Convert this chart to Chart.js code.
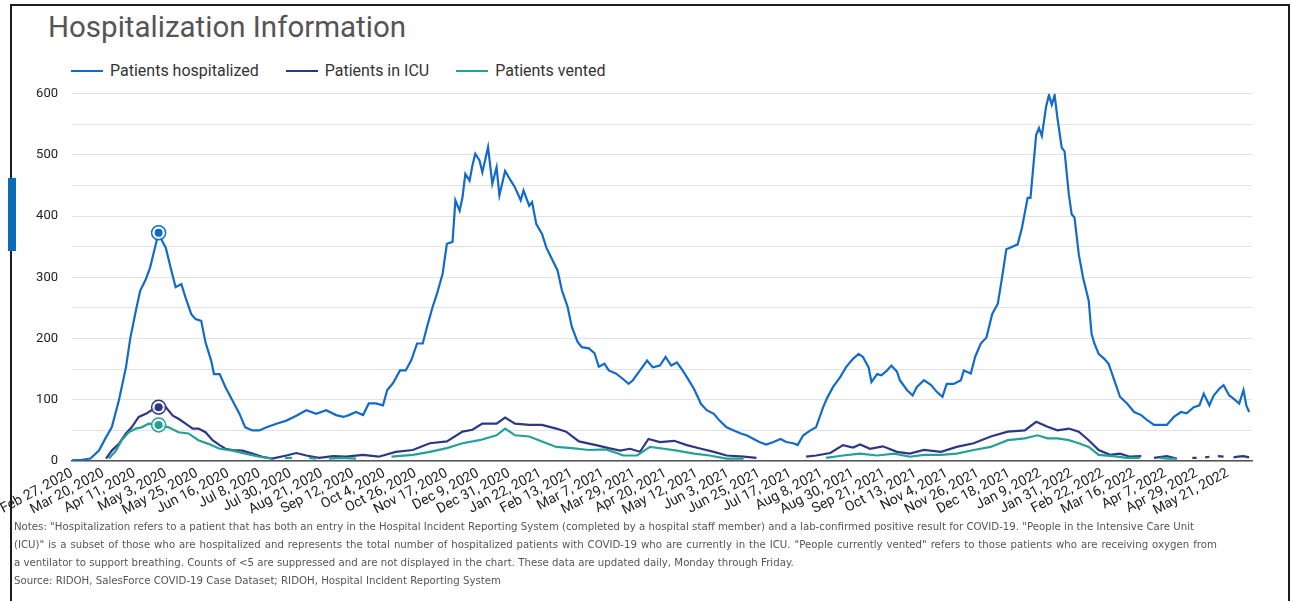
<!DOCTYPE html>
<html lang="en">
<head>
<meta charset="UTF-8">
<title>Hospitalization Information</title>
<script src="https://cdn.jsdelivr.net/npm/chart.js"></script>
<style>
    body {
        margin: 0;
        width: 1291px;
        height: 601px;
        overflow: hidden;
        position: relative;
        background: #fff;
        font-family: Roboto, 'Noto Sans', sans-serif;
    }
    .frame {
        position: absolute;
        left: 10px;
        top: 4px;
        width: 1276px;
        height: 640px;
        border: 2px solid #1c1c1c;
    }
    .tab {
        position: absolute;
        left: 8px;
        top: 178px;
        width: 8px;
        height: 73px;
        background: #0b6cba;
    }
    h1 {
        position: absolute;
        left: 48px;
        top: 10px;
        margin: 0;
        font-size: 29.5px;
        font-weight: 400;
        color: #555;
    }
    #legend {
        position: absolute;
        left: 71px;
        top: 61px;
        display: flex;
        font-size: 16px;
        color: #333;
    }
    .item {
        display: flex;
        align-items: center;
        margin-right: 27px;
    }
    .swatch {
        width: 32px;
        height: 2px;
        margin-right: 7px;
    }
    #chartBox {
        position: absolute;
        left: 0;
        top: 72px;
        width: 1291px;
        height: 448px;
    }
    .notes {
        position: absolute;
        left: 14px;
        top: 518px;
        font-family: 'DejaVu Sans', sans-serif;
        font-size: 10.2px;
        line-height: 18px;
        color: #555;
        white-space: nowrap;
    }
</style>
</head>
<body>
    <div class="frame"></div>
    <div class="tab"></div>
    <h1>Hospitalization Information</h1>
    <div id="legend"></div>
    <div id="chartBox"><canvas id="hospChart"></canvas></div>
    <div class="notes">
        Notes: "Hospitalization refers to a patient that has both an entry in the Hospital Incident Reporting System (completed by a hospital staff member) and a lab-confirmed positive result for COVID-19. "People in the Intensive Care Unit<br>
        <span style="word-spacing:0.7px">(ICU)" is a subset of those who are hospitalized and represents the total number of hospitalized patients with COVID-19 who are currently in the ICU. "People currently vented" refers to those patients who are receiving oxygen from</span><br>
        a ventilator to support breathing. Counts of &lt;5 are suppressed and are not displayed in the chart. These data are updated daily, Monday through Friday.<br>
        Source: RIDOH, SalesForce COVID-19 Case Dataset; RIDOH, Hospital Incident Reporting System
    </div>

<script>
// x axis: days since Feb 27, 2020, one label every 22 days
const tickLabels = ['Feb 27, 2020', 'Mar 20, 2020', 'Apr 11, 2020', 'May 3, 2020', 'May 25, 2020', 'Jun 16, 2020',
    'Jul 8, 2020', 'Jul 30, 2020', 'Aug 21, 2020', 'Sep 12, 2020', 'Oct 4, 2020', 'Oct 26, 2020', 'Nov 17, 2020',
    'Dec 9, 2020', 'Dec 31, 2020', 'Jan 22, 2021', 'Feb 13, 2021', 'Mar 7, 2021', 'Mar 29, 2021', 'Apr 20, 2021',
    'May 12, 2021', 'Jun 3, 2021', 'Jun 25, 2021', 'Jul 17, 2021', 'Aug 8, 2021', 'Aug 30, 2021', 'Sep 21, 2021',
    'Oct 13, 2021', 'Nov 4, 2021', 'Nov 26, 2021', 'Dec 18, 2021', 'Jan 9, 2022', 'Jan 31, 2022', 'Feb 22, 2022',
    'Mar 16, 2022', 'Apr 7, 2022', 'Apr 29, 2022', 'May 21, 2022'];
const tickStep = 22;
const lastDay = 831;
const peakDay = 61; // highlighted point

const hospDays = [
    0, 7, 13, 19, 24, 28, 33, 38, 41, 45,
    48, 52, 55, 59, 61, 64, 66, 70, 73, 77,
    80, 84, 87, 91, 94, 98, 100, 104, 108, 113,
    118, 122, 127, 132, 137, 144, 151, 158, 165, 172,
    179, 186, 191, 195, 200, 205, 209, 214, 219, 222,
    226, 231, 235, 239, 243, 247, 250, 254, 257, 261,
    264, 268, 270, 273, 275, 277, 280, 282, 284, 287,
    289, 293, 296, 299, 301, 305, 309, 312, 316, 318,
    322, 324, 327, 331, 334, 338, 342, 345, 349, 352,
    356, 359, 364, 368, 371, 375, 378, 383, 388, 392,
    395, 400, 405, 409, 414, 418, 422, 426, 430, 433,
    438, 443, 447, 452, 456, 461, 466, 471, 475, 480,
    484, 489, 494, 499, 503, 508, 511, 515, 520, 524,
    529, 532, 536, 541, 545, 550, 554, 557, 561, 563,
    567, 570, 574, 577, 581, 583, 588, 592, 595, 600,
    605, 609, 613, 616, 621, 626, 628, 633, 636, 640,
    644, 648, 652, 655, 658, 661, 666, 669, 673, 675,
    679, 681, 683, 686, 688, 690, 692, 694, 697, 699,
    702, 704, 706, 709, 712, 716, 718, 720, 723, 727,
    730, 734, 738, 743, 748, 753, 757, 762, 766, 771,
    776, 781, 785, 790, 794, 797, 801, 804, 808, 811,
    815, 818, 822, 825, 827, 829];
const hospValues = [
    1, 2, 4, 17, 39, 55, 99, 153, 200, 246,
    278, 297, 316, 354, 373, 357, 349, 311, 284, 289,
    267, 240, 232, 229, 194, 164, 142, 142, 121, 99,
    77, 55, 50, 50, 55, 61, 66, 74, 83, 77,
    83, 75, 72, 75, 80, 75, 94, 94, 91, 116,
    127, 148, 148, 165, 192, 192, 219, 252, 273, 306,
    355, 358, 426, 409, 431, 469, 458, 483, 502, 491,
    472, 513, 453, 480, 434, 474, 458, 447, 426, 442,
    417, 423, 387, 371, 349, 330, 311, 279, 252, 219,
    195, 186, 184, 176, 154, 159, 148, 143, 134, 126,
    132, 148, 164, 153, 156, 170, 156, 161, 148, 137,
    118, 93, 83, 77, 66, 55, 50, 45, 42, 36,
    31, 27, 31, 36, 31, 29, 26, 42, 50, 55,
    88, 104, 121, 137, 153, 167, 175, 170, 153, 129,
    142, 140, 148, 156, 146, 132, 116, 107, 121, 132,
    124, 113, 105, 126, 126, 132, 148, 143, 170, 192,
    202, 240, 257, 300, 346, 349, 354, 381, 430, 430,
    533, 544, 531, 579, 598, 582, 598, 560, 512, 506,
    436, 403, 398, 338, 300, 262, 208, 192, 175, 167,
    159, 132, 105, 94, 80, 75, 67, 59, 59, 59,
    72, 80, 78, 88, 91, 110, 91, 107, 118, 124,
    107, 102, 94, 116, 91, 80];

// null = suppressed (<5), left as a gap
const icuDays = [
    24, 28, 33, 38, 42, 47, 52, 56, 61, 66,
    71, 75, 80, 85, 89, 94, 99, 104, 108, 113,
    120, 127, 134, 141, 151, 158, 165, 174, 184, 193,
    205, 216, 228, 240, 252, 264, 275, 282, 289, 299,
    305, 312, 322, 331, 341, 348, 357, 369, 378, 386,
    393, 400, 406, 414, 424, 433, 443, 452, 461, 473,
    482, 486, 517, 524, 534, 543, 550, 555, 562, 571,
    581, 590, 600, 612, 623, 635, 647, 659, 671, 679,
    687, 694, 702, 709, 716, 723, 731, 738, 745, 753,
    757, 762, 771, 778, 782, 789, 792, 795, 798, 801,
    804, 807, 811, 814, 818, 821, 825, 829];
const icuValues = [
    4, 17, 28, 45, 55, 72, 77, 83, 88, 88,
    74, 69, 61, 53, 53, 47, 34, 26, 20, 18,
    17, 12, 7, 4, 9, 13, 9, 5, 8, 7,
    10, 7, 15, 18, 29, 32, 48, 51, 61, 61,
    71, 61, 59, 59, 53, 48, 32, 26, 21, 17,
    20, 15, 36, 31, 33, 26, 20, 15, 9, 7,
    5, null, 7, 9, 13, 26, 22, 27, 20, 24,
    15, 12, 18, 15, 23, 29, 40, 48, 50, 64,
    56, 50, 53, 48, 34, 18, 10, 12, 7, 8,
    null, 5, 8, 4, null, 5, 5, null, 6, 7,
    null, 8, 7, null, 6, 7, 8, 6];

const ventDays = [
    26, 31, 35, 40, 45, 49, 54, 61, 68, 75,
    82, 89, 96, 104, 113, 122, 132, 141, 146, 150,
    155, 160, 167, 172, 176, 181, 190, 200, 210, 225,
    240, 252, 264, 275, 287, 299, 305, 312, 322, 331,
    341, 352, 364, 376, 385, 388, 398, 407, 417, 426,
    438, 449, 461, 473, 478, 531, 543, 555, 567, 579,
    590, 600, 612, 623, 635, 647, 659, 671, 680, 687,
    694, 702, 709, 716, 723, 733, 743, 752, 758, 766,
    772, 778];
const ventValues = [
    4, 17, 34, 47, 53, 55, 61, 59, 55, 47,
    45, 34, 28, 20, 17, 12, 7, 4, null, 5,
    5, null, 5, 4, null, 4, 5, 4, null, 7,
    10, 15, 21, 29, 34, 42, 53, 42, 40, 32,
    23, 21, 18, 19, 12, 9, 9, 23, 20, 17,
    12, 9, 4, 4, null, 5, 9, 12, 9, 12,
    7, 10, 10, 12, 18, 23, 34, 37, 42, 37,
    37, 34, 29, 23, 10, 8, 5, 5, null, 5,
    4, 4];

const seriesNames = ['Patients hospitalized', 'Patients in ICU', 'Patients vented'];
const seriesColors = ['#126bc9', '#2d3786', '#25a096'];

function toPoints(days, values) {
    return days.map((d, i) => ({ x: d, y: values[i] }));
}

// ring around the highlighted point of every line
const peakRing = {
    id: 'peakRing',
    afterDatasetsDraw(chart) {
        const c = chart.ctx;
        chart.data.datasets.forEach((ds, i) => {
            const idx = ds.data.findIndex(p => p.x === peakDay);
            if (idx < 0) return;
            const el = chart.getDatasetMeta(i).data[idx];
            c.save();
            c.beginPath();
            c.arc(el.x, el.y, 7, 0, Math.PI * 2);
            c.fillStyle = 'rgba(255,255,255,0.8)';
            c.fill();
            c.lineWidth = 1.5;
            c.strokeStyle = ds.borderColor;
            c.stroke();
            c.beginPath();
            c.arc(el.x, el.y, 4, 0, Math.PI * 2);
            c.fillStyle = ds.borderColor;
            c.fill();
            c.restore();
        });
    }
};

const series = [toPoints(hospDays, hospValues), toPoints(icuDays, icuValues), toPoints(ventDays, ventValues)];

const chart = new Chart(document.getElementById('hospChart'), {
    type: 'line',
    data: {
        datasets: series.map((pts, i) => ({
            label: seriesNames[i],
            data: pts,
            borderColor: seriesColors[i],
            backgroundColor: seriesColors[i],
            borderWidth: 2.2,
            pointRadius: 0,
            tension: 0,
            spanGaps: false
        })).reverse()
    },
    options: {
        responsive: true,
        maintainAspectRatio: false,
        animation: false,
        layout: { padding: { top: 4, right: 39, left: 0, bottom: 0 } },
        plugins: {
            legend: { display: false },
            tooltip: { enabled: false }
        },
        scales: {
            x: {
                type: 'linear',
                min: 0,
                max: lastDay,
                grid: { display: false, drawTicks: false },
                border: { display: true, color: '#555', width: 1.5 },
                afterBuildTicks: s => { s.ticks = tickLabels.map((_, i) => ({ value: i * tickStep })); },
                // keep the plot's left edge fixed; the first rotated label may hang out to the left
                afterFit: s => { s.height = 59; s.paddingLeft = 60; },
                ticks: {
                    autoSkip: false,
                    maxRotation: 28,
                    minRotation: 28,
                    padding: 4,
                    color: '#222',
                    font: { family: 'Roboto', size: 14 },
                    callback: (v, i) => tickLabels[i]
                }
            },
            y: {
                min: 0,
                max: 600,
                border: { display: false },
                grid: { color: '#e2e2e2', drawTicks: false },
                afterFit: s => { s.width = 72; },
                ticks: {
                    stepSize: 50,
                    padding: 14,
                    color: '#222',
                    font: { family: 'Roboto', size: 13 },
                    callback: v => (v % 100 === 0 ? v : '')
                }
            }
        }
    },
    plugins: [peakRing]
});

// legend in the order of the series names
const legendDiv = document.getElementById('legend');
seriesNames.forEach((name, i) => {
    const item = document.createElement('div');
    item.className = 'item';
    const sw = document.createElement('span');
    sw.className = 'swatch';
    sw.style.background = seriesColors[i];
    const txt = document.createElement('span');
    txt.textContent = name;
    item.appendChild(sw);
    item.appendChild(txt);
    legendDiv.appendChild(item);
});
</script>
</body>
</html>
